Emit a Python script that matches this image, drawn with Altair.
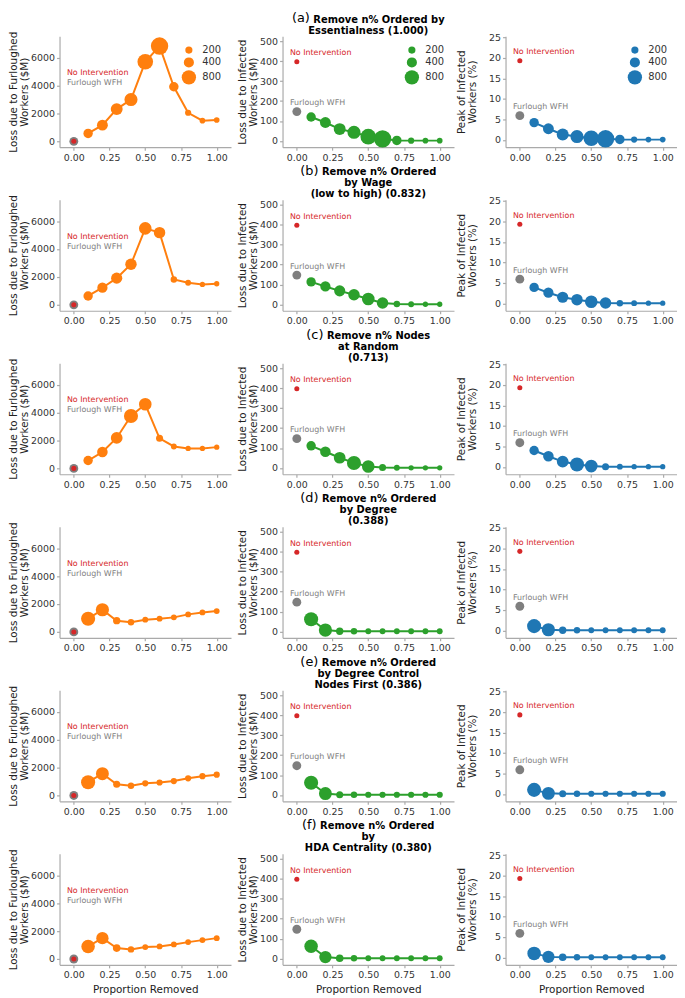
import altair as alt
import pandas as pd

FONT = "DejaVu Sans"

PROPORTIONS = [0.1, 0.2, 0.3, 0.4, 0.5, 0.6, 0.7, 0.8, 0.9, 1.0]

PANEL_TAGS = ["(a)", "(b)", "(c)", "(d)", "(e)", "(f)"]
PANEL_TITLES = [
    ["Remove n% Ordered by", "Essentialness (1.000)"],
    ["Remove n% Ordered", "by Wage", "(low to high) (0.832)"],
    ["Remove n% Nodes", "at Random", "(0.713)"],
    ["Remove n% Ordered", "by Degree", "(0.388)"],
    ["Remove n% Ordered", "by Degree Control", "Nodes First (0.386)"],
    ["Remove n% Ordered", "by", "HDA Centrality (0.380)"],
]

# Loss due to furloughed workers ($M)
FURLOUGHED = [
    [565, 1157, 2308, 2992, 5695, 6824, 3910, 2047, 1482, 1530],
    [638, 1228, 1913, 2906, 5480, 5173, 1819, 1583, 1465, 1512],
    [562, 1172, 2180, 3750, 4594, 2156, 1570, 1430, 1430, 1523],
    [949, 1589, 806, 688, 877, 949, 1043, 1257, 1399, 1494],
    [950, 1560, 800, 700, 870, 930, 1030, 1230, 1380, 1490],
    [901, 1494, 783, 688, 854, 901, 1043, 1209, 1352, 1494],
]
# Loss due to infected workers ($M)
INFECTED = [
    [120, 92, 59, 43, 21, 10, 2, 1, 1, 1],
    [113, 90, 68, 48, 27, 7, 2, 0.5, 0.5, 0.5],
    [111, 81, 51, 25, 7, 2, 0.5, 0.5, 0.5, 0.5],
    [61, 7, 1, 1, 1, 1, 1, 1, 1, 1],
    [61, 7, 1, 1, 1, 1, 1, 1, 1, 1],
    [62, 7, 1, 1, 1, 1, 1, 1, 1, 1],
]
# Peak of infected workers (%)
PEAK = [
    [4.2, 2.7, 1.3, 0.8, 0.4, 0.25, 0.1, 0.05, 0.05, 0.05],
    [3.9, 2.6, 1.5, 0.9, 0.4, 0.1, 0.05, 0.05, 0.05, 0.05],
    [4.0, 2.6, 1.3, 0.6, 0.2, 0.05, 0.05, 0.05, 0.05, 0.05],
    [1.05, 0.16, 0.05, 0.05, 0.05, 0.05, 0.05, 0.05, 0.05, 0.05],
    [1.0, 0.15, 0.05, 0.05, 0.05, 0.05, 0.05, 0.05, 0.05, 0.05],
    [1.0, 0.15, 0.05, 0.05, 0.05, 0.05, 0.05, 0.05, 0.05, 0.05],
]
# marker size values
SIZES = [
    [344, 460, 555, 670, 950, 1180, 350, 150, 125, 125],
    [344, 410, 485, 510, 620, 510, 162, 134, 109, 109],
    [344, 435, 537, 773, 620, 193, 134, 109, 109, 109],
    [773, 680, 210, 162, 134, 134, 134, 134, 134, 134],
    [773, 650, 193, 162, 150, 150, 150, 150, 150, 150],
    [710, 592, 227, 162, 134, 134, 134, 134, 134, 134],
]
SIZE_LEGEND = [200, 400, 800]

NO_INTERVENTION = [0, 398, 19.3]
FURLOUGH_WFH = [0, 147, 5.9]

SERIES = [FURLOUGHED, INFECTED, PEAK]
COLORS = ["#ff7f0e", "#2ca02c", "#1f77b4"]
RED = "#d62728"
GRAY = "#7f7f7f"

Y_DOMAINS = [[-420, 7530], [-32, 526], [-1.8, 25.3]]
Y_TICKS = [[0, 2000, 4000, 6000], [0, 100, 200, 300, 400, 500], [0, 5, 10, 15, 20, 25]]
Y_TITLES = [["Loss due to Furloughed", "Workers ($M)"],
            ["Loss due to Infected", "Workers ($M)"],
            ["Peak of Infected", "Workers (%)"]]
Y_TITLE_PAD = [1, 1, 11]
X_TICKS = [0, 0.25, 0.5, 0.75, 1.0]

# annotation placement in the left column (both reference points sit at 0)
LEFT_ANNOT_Y = {"No Intervention": 4870, "Furlough WFH": 4170}

W, H = 173, 112

BOLD_W = {' ': .348, '(': .457, ')': .457, '%': 1.002, '.': .380, 'A': .774, 'C': .734,
          'D': .830, 'E': .683, 'F': .683, 'H': .837, 'N': .837, 'O': .850, 'R': .770,
          'W': 1.103, 'a': .675, 'b': .716, 'c': .593, 'd': .716, 'e': .678, 'g': .716,
          'h': .712, 'i': .343, 'l': .343, 'm': 1.042, 'n': .712, 'o': .687, 'r': .493,
          's': .595, 't': .478, 'u': .712, 'v': .652, 'w': .924, 'y': .652}
NORM_W = {'(': .390, ')': .390, 'a': .613, 'b': .635, 'c': .550, 'd': .635, 'e': .615, 'f': .352}


def text_width(s, table, size, default=0.69):
    return sum(table.get(ch, default if not ch.isdigit() else 0.696) for ch in s) * size


def titles_layers(row):
    layers = []
    lines = PANEL_TITLES[row]
    n = len(lines)
    cx = W / 2
    tag = PANEL_TAGS[row]
    w_tag = text_width(tag, NORM_W, 13)
    gap = 3.5
    w_rest = text_width(lines[0], BOLD_W, 10)
    start = cx - (w_tag + gap + w_rest) / 2
    base_first = -2.7 - 11 * (n - 1)  # alphabetic baseline of the first line
    layers.append(
        alt.Chart(pd.DataFrame({"t": [tag]})).mark_text(
            font=FONT, fontSize=13, align="right", baseline="top", color="#000000"
        ).encode(x=alt.value(start + w_tag), y=alt.value(base_first - 0.79 * 13), text="t:N"))
    layers.append(
        alt.Chart(pd.DataFrame({"t": [lines[0]]})).mark_text(
            font=FONT, fontSize=10, fontWeight="bold", align="left", baseline="top", color="#000000"
        ).encode(x=alt.value(start + w_tag + gap), y=alt.value(base_first - 7.9), text="t:N"))
    for i in range(1, n):
        layers.append(
            alt.Chart(pd.DataFrame({"t": [lines[i]]})).mark_text(
                font=FONT, fontSize=10, fontWeight="bold", align="center", baseline="top",
                color="#000000"
            ).encode(x=alt.value(cx), y=alt.value(base_first + 11 * i - 7.9), text="t:N"))
    return layers


def panel(row, col):
    color = COLORS[col]
    df = pd.DataFrame({"x": PROPORTIONS, "y": SERIES[col][row], "s": SIZES[row]})
    x_axis_kw = dict(values=X_TICKS, format=".2f", title=None)
    if row == 5:
        x_axis_kw["title"] = "Proportion Removed"
    x = alt.X("x:Q", scale=alt.Scale(domain=[-0.1, 1.1], nice=False, zero=False),
              axis=alt.Axis(**x_axis_kw))
    y = alt.Y("y:Q", scale=alt.Scale(domain=Y_DOMAINS[col], nice=False, zero=False),
              axis=alt.Axis(values=Y_TICKS[col], format="d", title=Y_TITLES[col],
                            titlePadding=Y_TITLE_PAD[col]))
    if row == 0:
        legend = alt.Legend(orient="top-right", values=SIZE_LEGEND, title=None, symbolType="circle",
                            symbolFillColor=color, symbolStrokeWidth=0, symbolOpacity=1,
                            labelFontSize=10, labelFont=FONT, labelColor="#333333",
                            offset=9, rowPadding=2, symbolOffset=0, labelOffset=6)
    else:
        legend = None
    size = alt.Size("s:Q", scale=alt.Scale(domain=[0, 800], range=[0, 209]), legend=legend)

    line = alt.Chart(df).mark_line(color=color, strokeWidth=2).encode(x=x, y=y)
    pts = alt.Chart(df).mark_circle(color=color, opacity=1).encode(x=x, y=y, size=size)

    gray_df = pd.DataFrame({"x": [0], "y": [FURLOUGH_WFH[col]], "t": ["Furlough WFH"]})
    red_df = pd.DataFrame({"x": [0], "y": [NO_INTERVENTION[col]], "t": ["No Intervention"]})
    gray_pt = alt.Chart(gray_df).mark_circle(color=GRAY, size=80, opacity=1).encode(x=x, y=y)
    red_pt = alt.Chart(red_df).mark_circle(color=RED, size=26, opacity=1).encode(x=x, y=y)

    layers = [line, pts, gray_pt, red_pt]
    for tdf, c in ((red_df, RED), (gray_df, GRAY)):
        if col == 0:
            tdf = tdf.assign(y=[LEFT_ANNOT_Y[tdf["t"][0]]])
            mk = alt.Chart(tdf).mark_text(font=FONT, fontSize=8, color=c, align="left",
                                          baseline="middle", dx=-7)
        else:
            mk = alt.Chart(tdf).mark_text(font=FONT, fontSize=8, color=c, align="left",
                                          baseline="middle", dx=-7, dy=-8.5)
        layers.append(mk.encode(x=x, y=y, text="t:N"))
    if col == 1:
        layers += titles_layers(row)
    return alt.layer(*layers).properties(width=W, height=H)


panels = [panel(r, c) for r in range(6) for c in range(3)]

chart = alt.concat(*panels, columns=3, spacing={"row": 53, "column": 52}, bounds="flush").resolve_scale(
    size="independent").resolve_legend(size="independent").properties(
    padding={"left": 0, "top": 0, "right": 0, "bottom": 0}
).configure_axis(
    labelFont=FONT, titleFont=FONT, labelFontSize=9.5, titleFontSize=10.5, titleFontWeight="normal",
    labelColor="#333333", titleColor="#222222", domainColor="#aaaaaa", tickColor="#aaaaaa",
    tickSize=3, labelPadding=2, grid=False, domainWidth=1.2, tickWidth=1.2, titleLineHeight=11.5
).configure_axisX(titlePadding=5).configure_view(stroke=None)

chart.save("out.html", embed_options={"renderer": "svg", "actions": False})
